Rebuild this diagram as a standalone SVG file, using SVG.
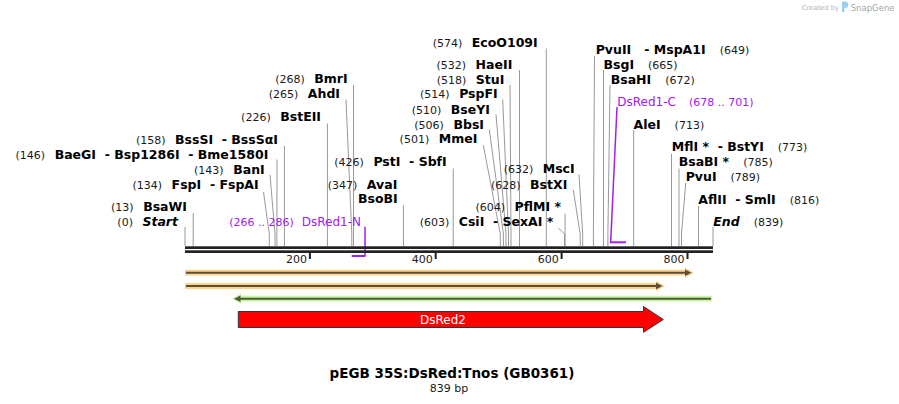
<svg xmlns="http://www.w3.org/2000/svg" width="899" height="404" viewBox="0 0 899 404">
<style>
text{font-family:"DejaVu Sans",Verdana,sans-serif}
.n{font-size:11px;fill:#1a1a1a}
.b{font-size:12.5px;font-weight:bold;fill:#000}
.bi{font-size:12.5px;font-weight:bold;font-style:italic;fill:#000}
.pn{font-size:11px;fill:#a020f0}
.pl{font-size:12px;fill:#a020f0}
.tk{font-size:11px;fill:#1a1a1a;text-anchor:end}
.cut{stroke:#999;stroke-width:1;fill:none}
.pr{stroke:#a020f0;fill:none}
.og{fill:#ffd38a}
.gg{fill:#c9f7a0}
.dk{stroke:#5a4d3a;stroke-width:2}
.dh{fill:#5a4d3a}
.gk{stroke:#4b5a3e;stroke-width:2}
.gh{fill:#4b5a3e}
</style>
<rect width="899" height="404" fill="#fff"/>
<g id="logo">
<text x="801.7" y="9.5" style="font-size:6.8px;fill:#b4b4b4">Created by</text>
<path d="M842,1.5 h3 a3.2,3.2 0 0 1 0,6.4 h-0.6 v4 h-2.4 z" fill="#9ccfee"/>
<text x="850.7" y="10.5" style="font-size:8.5px;fill:#a6a6a6">SnapGene</text>
</g>
<g id="primers">
<path class="pr" stroke-width="1.5" d="M365,226.7 V256"/>
<path class="pr" stroke-width="2" d="M351.7,256 H365.5"/>
<path class="pr" stroke-width="1.5" d="M617,107 L610.7,242"/>
<path class="pr" stroke-width="2" d="M610,242.3 H626"/>
</g>
<g id="connectors">
<path class="cut" d="M185,227 V246"/>
<path class="cut" d="M193.2,213 V246"/>
<path class="cut" d="M263.5,192 L269.3,234 V246"/>
<path class="cut" d="M270,175 L275,234 V246"/>
<path class="cut" d="M277,159.5 L276.9,234 V246"/>
<path class="cut" d="M284.4,146 V246"/>
<path class="cut" d="M327.4,123.5 V246"/>
<path class="cut" d="M346,99.5 L351.8,234 V246"/>
<path class="cut" d="M353.5,85 V246"/>
<path class="cut" d="M403.4,205 V246"/>
<path class="cut" d="M453.2,168.5 V246"/>
<path class="cut" d="M483.3,145 L500.3,234 V246"/>
<path class="cut" d="M489.3,129.5 L503.4,234 V246"/>
<path class="cut" d="M496,114.5 L506,234 V246"/>
<path class="cut" d="M502.7,99.5 L508.5,234 V246"/>
<path class="cut" d="M510,85 L511,234 V246"/>
<path class="cut" d="M519.5,70 V246"/>
<path class="cut" d="M546.3,48.5 V246"/>
<path class="cut" d="M558.3,228 L564.5,234 V246"/>
<path class="cut" d="M565.1,213.5 V246"/>
<path class="cut" d="M573.3,190 L580.2,234 V246"/>
<path class="cut" d="M579,174.5 L582.7,234 V246"/>
<path class="cut" d="M594.5,56 L593.4,234 V246"/>
<path class="cut" d="M603.5,70 V246"/>
<path class="cut" d="M610,85 L607.9,234 V246"/>
<path class="cut" d="M633.7,130 V246"/>
<path class="cut" d="M671.5,154 V246"/>
<path class="cut" d="M679,168.5 V246"/>
<path class="cut" d="M685.7,183 L681.5,234 V246"/>
<path class="cut" d="M698.5,206 V246"/>
<path class="cut" d="M713,227 V246"/>
</g>
<g id="sequence">
<rect x="185" y="246.3" width="528" height="2.7" fill="#222"/>
<rect x="185" y="250.3" width="528" height="2.7" fill="#222"/>
<rect x="308.9" y="252.5" width="2" height="6.5" fill="#222"/>
<rect x="434.7" y="252.5" width="2" height="6.5" fill="#222"/>
<rect x="560.6" y="252.5" width="2" height="6.5" fill="#222"/>
<rect x="686.5" y="252.5" width="2" height="6.5" fill="#222"/>
<text class="tk" x="307" y="263">200</text>
<text class="tk" x="432.8" y="263">400</text>
<text class="tk" x="558.7" y="263">600</text>
<text class="tk" x="684.6" y="263">800</text>
</g>
<g id="site-start"><text x="178" y="226" text-anchor="end" xml:space="preserve"><tspan class="n">(0)</tspan><tspan class="bi" dx="9.5">Start</tspan></text></g>
<g id="site-bsawi"><text x="187" y="211" text-anchor="end" xml:space="preserve"><tspan class="n">(13)</tspan><tspan class="b" dx="9.5">BsaWI</tspan></text></g>
<g id="site-fspi"><text x="258.7" y="188.5" text-anchor="end" xml:space="preserve"><tspan class="n">(134)</tspan><tspan class="b" dx="9.5">FspI  - FspAI</tspan></text></g>
<g id="site-bani"><text x="264.7" y="173.5" text-anchor="end" xml:space="preserve"><tspan class="n">(143)</tspan><tspan class="b" dx="9.5">BanI</tspan></text></g>
<g id="site-baegi"><text x="268.3" y="158.5" text-anchor="end" xml:space="preserve"><tspan class="n">(146)</tspan><tspan class="b" dx="9.5">BaeGI  - Bsp1286I  - Bme1580I</tspan></text></g>
<g id="site-bsssi"><text x="278" y="143.5" text-anchor="end" xml:space="preserve"><tspan class="n">(158)</tspan><tspan class="b" dx="9.5">BssSI  - BssSαI</tspan></text></g>
<g id="site-bsteii"><text x="321" y="121" text-anchor="end" xml:space="preserve"><tspan class="n">(226)</tspan><tspan class="b" dx="9.5">BstEII</tspan></text></g>
<g id="site-ahdi"><text x="340" y="97.7" text-anchor="end" xml:space="preserve"><tspan class="n">(265)</tspan><tspan class="b" dx="9.5">AhdI</tspan></text></g>
<g id="site-bmri"><text x="347.7" y="82.7" text-anchor="end" xml:space="preserve"><tspan class="n">(268)</tspan><tspan class="b" dx="9.5">BmrI</tspan></text></g>
<g id="site-avai"><text x="397.3" y="188.5" text-anchor="end" xml:space="preserve"><tspan class="n">(347)</tspan><tspan class="b" dx="9.5">AvaI</tspan></text><text class="b" x="397.7" y="202.7" text-anchor="end">BsoBI</text></g>
<g id="site-psti"><text x="446.7" y="166" text-anchor="end" xml:space="preserve"><tspan class="n">(426)</tspan><tspan class="b" dx="9.5">PstI  - SbfI</tspan></text></g>
<g id="site-mmei"><text x="477.3" y="142.7" text-anchor="end" xml:space="preserve"><tspan class="n">(501)</tspan><tspan class="b" dx="9.5">MmeI</tspan></text></g>
<g id="site-bbsi"><text x="484" y="128.5" text-anchor="end" xml:space="preserve"><tspan class="n">(506)</tspan><tspan class="b" dx="9.5">BbsI</tspan></text></g>
<g id="site-bseyi"><text x="490" y="113.5" text-anchor="end" xml:space="preserve"><tspan class="n">(510)</tspan><tspan class="b" dx="9.5">BseYI</tspan></text></g>
<g id="site-pspfi"><text x="497.7" y="97.7" text-anchor="end" xml:space="preserve"><tspan class="n">(514)</tspan><tspan class="b" dx="9.5">PspFI</tspan></text></g>
<g id="site-stui"><text x="504.3" y="83.5" text-anchor="end" xml:space="preserve"><tspan class="n">(518)</tspan><tspan class="b" dx="9.5">StuI</tspan></text></g>
<g id="site-haeii"><text x="512.3" y="68.5" text-anchor="end" xml:space="preserve"><tspan class="n">(532)</tspan><tspan class="b" dx="9.5">HaeII</tspan></text></g>
<g id="site-ecoo109i"><text x="537.7" y="46.7" text-anchor="end" xml:space="preserve"><tspan class="n">(574)</tspan><tspan class="b" dx="9.5">EcoO109I</tspan></text></g>
<g id="site-csii"><text x="553.3" y="226" text-anchor="end" xml:space="preserve"><tspan class="n">(603)</tspan><tspan class="b" dx="9.5">CsiI  - SexAI *</tspan></text></g>
<g id="site-pflmi"><text x="561" y="211" text-anchor="end" xml:space="preserve"><tspan class="n">(604)</tspan><tspan class="b" dx="9.5">PflMI *</tspan></text></g>
<g id="site-bstxi"><text x="567.3" y="188.5" text-anchor="end" xml:space="preserve"><tspan class="n">(628)</tspan><tspan class="b" dx="9.5">BstXI</tspan></text></g>
<g id="site-msci"><text x="574.7" y="172.7" text-anchor="end" xml:space="preserve"><tspan class="n">(632)</tspan><tspan class="b" dx="9.5">MscI</tspan></text></g>
<g id="site-pvuii"><text x="595.7" y="53.5" xml:space="preserve"><tspan class="b">PvuII   - MspA1I</tspan><tspan class="n" dx="14">(649)</tspan></text></g>
<g id="site-bsgi"><text x="603.5" y="68.5" xml:space="preserve"><tspan class="b">BsgI</tspan><tspan class="n" dx="14">(665)</tspan></text></g>
<g id="site-bsahi"><text x="610.7" y="83.5" xml:space="preserve"><tspan class="b">BsaHI</tspan><tspan class="n" dx="14">(672)</tspan></text></g>
<g id="site-alei"><text x="633.5" y="128.5" xml:space="preserve"><tspan class="b">AleI</tspan><tspan class="n" dx="14">(713)</tspan></text></g>
<g id="site-mfli"><text x="671.7" y="151" xml:space="preserve"><tspan class="b">MflI *  - BstYI</tspan><tspan class="n" dx="14">(773)</tspan></text></g>
<g id="site-bsabi"><text x="678.7" y="166" xml:space="preserve"><tspan class="b">BsaBI *</tspan><tspan class="n" dx="14">(785)</tspan></text></g>
<g id="site-pvui"><text x="685.7" y="181" xml:space="preserve"><tspan class="b">PvuI</tspan><tspan class="n" dx="14">(789)</tspan></text></g>
<g id="site-aflii"><text x="698.3" y="203.5" xml:space="preserve"><tspan class="b">AflII  - SmlI</tspan><tspan class="n" dx="14">(816)</tspan></text></g>
<g id="site-end"><text x="713.3" y="226" xml:space="preserve"><tspan class="bi">End</tspan><tspan class="n" dx="14">(839)</tspan></text></g>
<g id="primer-n"><text x="361" y="226" text-anchor="end" xml:space="preserve"><tspan class="pn">(266 .. 286)</tspan><tspan class="pl" dx="8">DsRed1-N</tspan></text></g>
<g id="primer-c"><text x="617.3" y="106" xml:space="preserve"><tspan class="pl">DsRed1-C</tspan><tspan class="pn" dx="13">(678 .. 701)</tspan></text></g>
<g id="feature-orange1">
<polygon class="og" points="185,269.8 685,269.8 685,267.5 694,272.7 685,277.9 685,275.6 185,275.6"/>
<line class="dk" x1="186" y1="272.7" x2="686" y2="272.7"/>
<polygon class="dh" points="685,269.5 691.5,272.7 685,275.9"/>
</g>
<g id="feature-orange2">
<polygon class="og" points="185,283.1 656,283.1 656,280.8 665,286 656,291.2 656,288.9 185,288.9"/>
<line class="dk" x1="186" y1="286" x2="657" y2="286"/>
<polygon class="dh" points="656,282.8 662.5,286 656,289.2"/>
</g>
<g id="feature-green">
<polygon class="gg" points="712,295.8 241,295.8 241,293.5 232,298.7 241,303.9 241,301.6 712,301.6"/>
<line class="gk" x1="711" y1="298.7" x2="240" y2="298.7"/>
<polygon class="gh" points="240.5,295.5 234,298.7 240.5,301.9"/>
</g>
<g id="feature-dsred2">
<path d="M238.3,311.5 H643.5 V306.5 L663.3,319.5 L643.5,332.3 V327.5 H238.3 Z" fill="#ff0000" stroke="#333" stroke-width="1"/>
<text x="443" y="323.8" text-anchor="middle" style="font-size:12px;fill:#fff">DsRed2</text>
</g>
<g id="title">
<text x="452" y="378" text-anchor="middle" style="font-size:13.5px;font-weight:bold;fill:#000">pEGB 35S:DsRed:Tnos (GB0361)</text>
<text x="449" y="392" text-anchor="middle" style="font-size:11px;fill:#1a1a1a">839 bp</text>
</g>
</svg>
